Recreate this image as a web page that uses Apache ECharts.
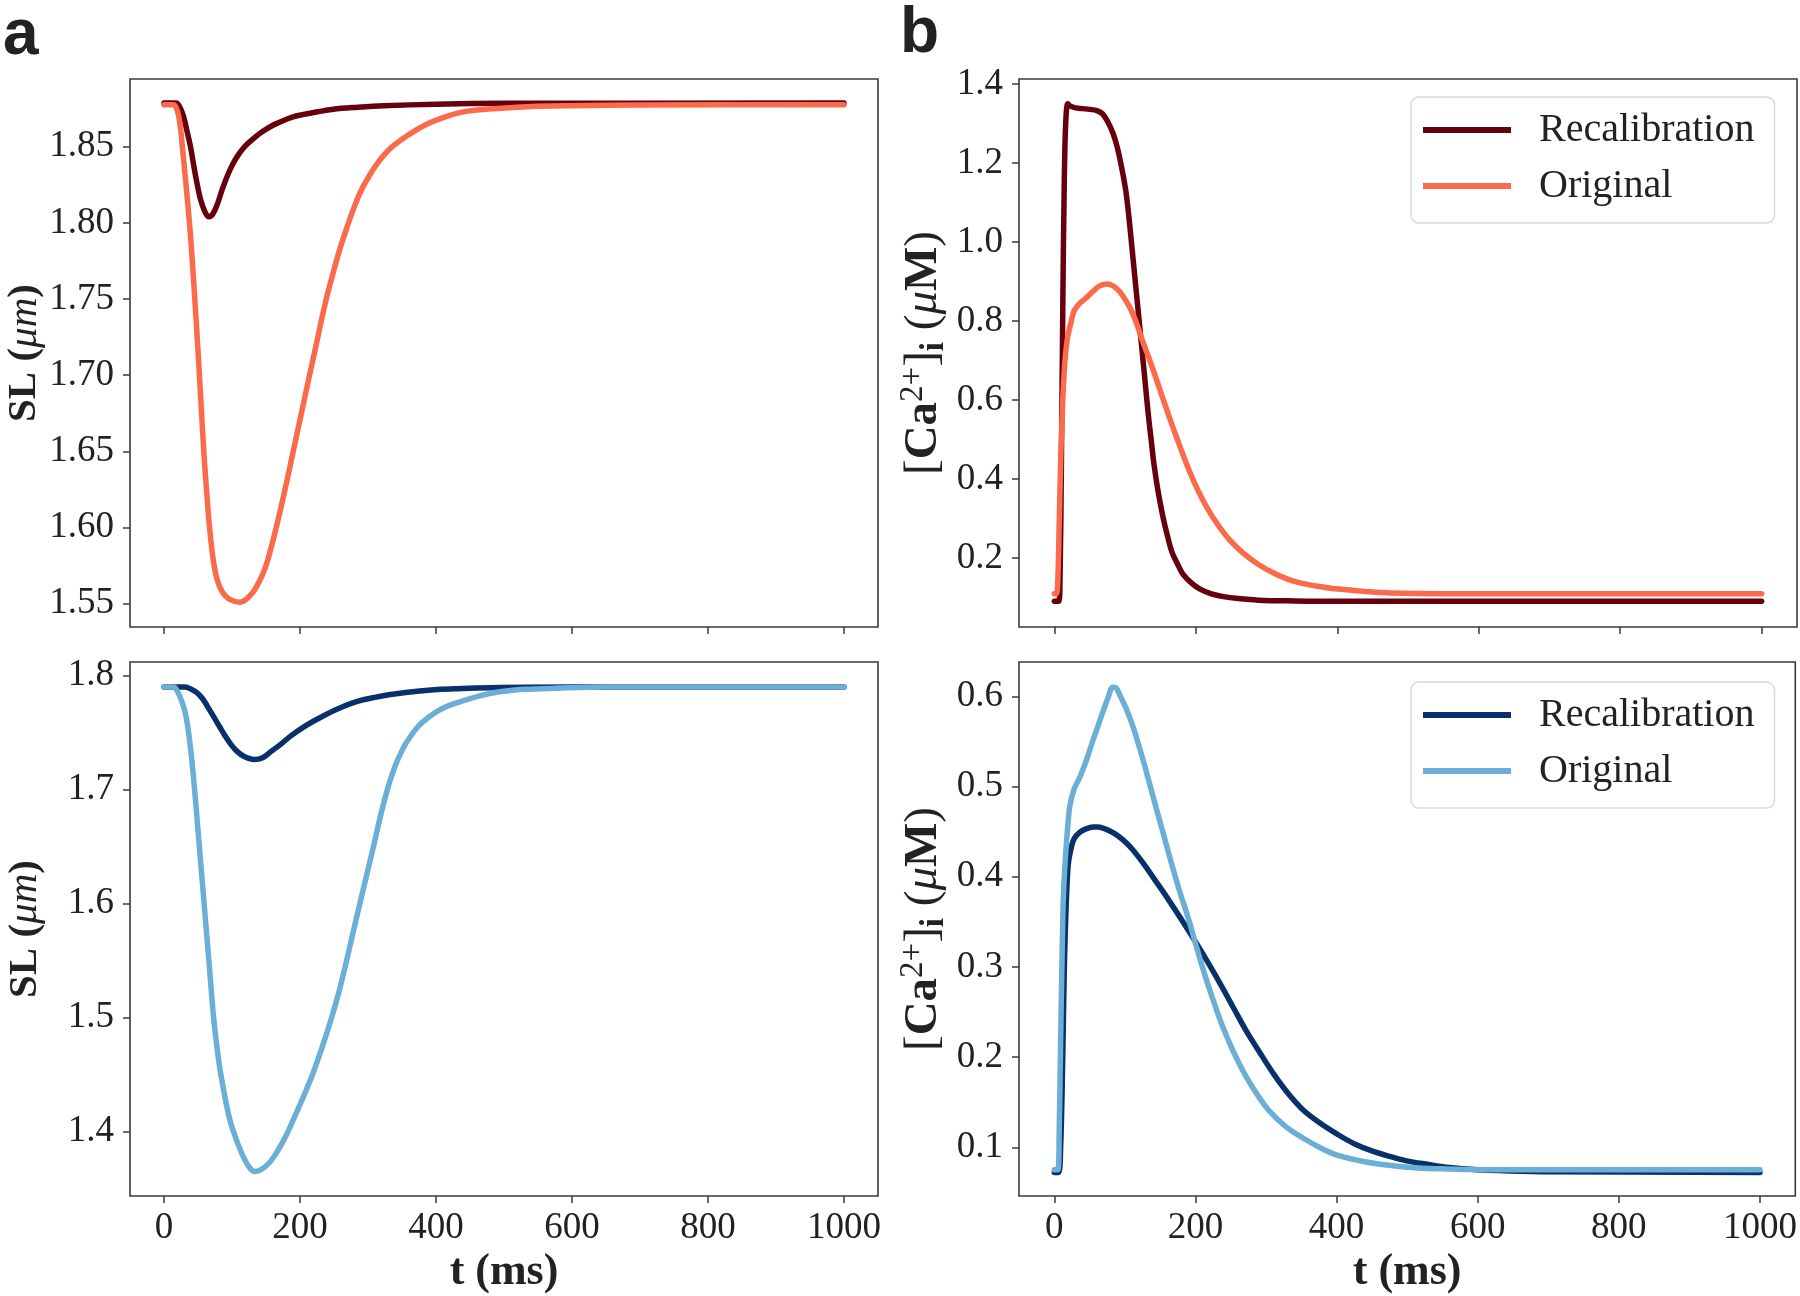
<!DOCTYPE html>
<html>
<head>
<meta charset="utf-8">
<script src="https://cdn.jsdelivr.net/npm/echarts@6/dist/echarts.min.js"></script>
<style>
  html, body { margin: 0; padding: 0; background: #fff; }
  #main { width: 1800px; height: 1296px; }
</style>
</head>
<body>
<div id="main"></div>
<script>
// panel a, top: sarcomere length (red pair)
const tSLRecalRed = [0, 18, 22, 28, 34, 39, 44, 49, 54, 60, 66, 72, 79, 86, 94, 102, 110, 119, 130, 140, 151, 165, 190, 220, 249, 285, 323, 400, 500, 1000];
const vSLRecalRed = [1.8787, 1.8787, 1.877, 1.871, 1.860, 1.850, 1.837, 1.825, 1.815, 1.8075, 1.8040, 1.8060, 1.8130, 1.8225, 1.8318, 1.8393, 1.8452, 1.8503, 1.8548, 1.8585, 1.8618, 1.8652, 1.8697, 1.8725, 1.8747, 1.876, 1.877, 1.878, 1.8785, 1.8787];
const tSLOrigRed = [0, 14, 20, 24, 27, 32, 38, 41.5, 45, 48.5, 52, 58.5, 63, 67, 72, 78, 86, 96, 112, 124, 136, 150, 165, 178, 190, 202, 214, 226, 237, 248, 258, 269, 281, 293, 312, 333, 360, 387, 416, 446, 519, 600, 700, 1000];
const vSLOrigRed = [1.8776, 1.8776, 1.873, 1.863, 1.850, 1.827, 1.797, 1.776, 1.752, 1.727, 1.701, 1.650, 1.622, 1.600, 1.580, 1.566, 1.5575, 1.5530, 1.551, 1.554, 1.561, 1.575, 1.600, 1.625, 1.650, 1.675, 1.700, 1.7245, 1.747, 1.766, 1.782, 1.797, 1.812, 1.824, 1.838, 1.849, 1.858, 1.865, 1.870, 1.8734, 1.8760, 1.8770, 1.8774, 1.8776];

// panel a, bottom: sarcomere length (blue pair)
const tSLRecalBlue = [0, 30, 37, 45, 51, 56.5, 61, 65, 73, 82, 90, 98, 107, 118, 133, 145, 158, 172, 186, 208, 232, 256, 282, 310, 339, 407, 480, 600, 1000];
const vSLRecalBlue = [1.790, 1.790, 1.789, 1.7865, 1.7838, 1.7800, 1.7760, 1.772, 1.764, 1.755, 1.747, 1.740, 1.7338, 1.729, 1.7264, 1.728, 1.7338, 1.740, 1.747, 1.756, 1.764, 1.771, 1.777, 1.781, 1.784, 1.788, 1.7895, 1.790, 1.790];
const tSLOrigBlue = [0, 14, 20, 27, 31, 35, 40, 45, 52, 59, 66, 73, 81, 90, 97, 104.5, 115, 125, 133, 142, 154, 167, 180, 192, 206, 219, 232, 246, 257, 267, 277, 288, 308, 318, 328, 335, 342, 349, 356, 373, 390, 412, 435, 463, 491, 530, 576, 650, 1000];
const vSLOrigBlue = [1.790, 1.790, 1.786, 1.776, 1.768, 1.755, 1.731, 1.700, 1.650, 1.600, 1.550, 1.500, 1.460, 1.429, 1.410, 1.396, 1.380, 1.369, 1.365, 1.3665, 1.372, 1.383, 1.397, 1.413, 1.432, 1.451, 1.473, 1.499, 1.522, 1.546, 1.572, 1.600, 1.650, 1.676, 1.699, 1.7125, 1.724, 1.733, 1.741, 1.755, 1.764, 1.772, 1.777, 1.782, 1.7856, 1.788, 1.789, 1.790, 1.790];

// panel b, top: calcium transient (red pair)
const tCaRecalRed = [0, 6, 8, 10, 12, 14, 16, 19, 22, 30, 40, 50, 60, 68, 76, 83, 89, 95, 101, 105, 109, 113, 117, 121, 125, 129, 133, 137, 141, 147, 154, 160, 166, 174, 182, 194, 206, 222, 239, 260, 288, 340, 400, 1000];
const vCaRecalRed = [0.090, 0.090, 0.15, 0.45, 0.85, 1.15, 1.30, 1.350, 1.345, 1.340, 1.338, 1.336, 1.333, 1.325, 1.303, 1.275, 1.24, 1.19, 1.13, 1.07, 0.999, 0.926, 0.853, 0.780, 0.707, 0.633, 0.56, 0.497, 0.435, 0.365, 0.30, 0.255, 0.216, 0.185, 0.158, 0.136, 0.121, 0.109, 0.102, 0.097, 0.093, 0.091, 0.090, 0.090];
const tCaOrigRed = [0, 3, 5, 7, 9, 11, 13, 15, 18, 20, 24, 28, 36, 44, 54, 64, 75, 84, 93, 101, 109, 117, 125, 135, 146, 156, 166, 178, 190, 202, 215, 230, 247, 267, 288, 312, 337, 370, 402, 440, 475, 550, 1000];
const vCaOrigRed = [0.109, 0.109, 0.15, 0.30, 0.45, 0.56, 0.64, 0.70, 0.75, 0.77, 0.80, 0.826, 0.845, 0.857, 0.874, 0.889, 0.894, 0.888, 0.873, 0.852, 0.826, 0.790, 0.748, 0.700, 0.643, 0.590, 0.539, 0.480, 0.424, 0.375, 0.330, 0.287, 0.247, 0.212, 0.184, 0.160, 0.142, 0.129, 0.121, 0.115, 0.111, 0.109, 0.109];

// panel b, bottom: calcium transient (blue pair)
const tCaRecalBlue = [0, 6, 9, 12, 14, 16, 18, 20, 24, 28, 36, 45, 55, 62, 72, 85, 97, 110, 126, 142, 158, 174, 200, 220, 239, 255, 272, 292, 312, 332, 353, 378, 402, 425, 450, 475, 499, 530, 556, 600, 637, 700, 1000];
const vCaRecalBlue = [0.072, 0.072, 0.10, 0.20, 0.29, 0.35, 0.39, 0.415, 0.432, 0.442, 0.449, 0.453, 0.455, 0.455, 0.453, 0.448, 0.441, 0.431, 0.415, 0.397, 0.379, 0.360, 0.328, 0.302, 0.276, 0.253, 0.229, 0.204, 0.180, 0.159, 0.141, 0.126, 0.114, 0.104, 0.096, 0.090, 0.085, 0.081, 0.078, 0.075, 0.074, 0.073, 0.072];
const tCaOrigBlue = [0, 5, 7, 9, 11, 13, 16, 19, 22, 28, 36, 45, 53, 61, 69, 76, 83, 88, 93, 101, 110, 118, 126, 134, 142, 154, 166, 178, 191, 203, 215, 227, 239, 255, 272, 288, 304, 328, 353, 378, 402, 440, 475, 515, 556, 650, 1000];
const vCaOrigBlue = [0.075, 0.075, 0.12, 0.22, 0.31, 0.38, 0.424, 0.455, 0.478, 0.497, 0.51, 0.528, 0.547, 0.565, 0.583, 0.598, 0.610, 0.609, 0.601, 0.588, 0.570, 0.550, 0.529, 0.506, 0.483, 0.449, 0.415, 0.383, 0.351, 0.318, 0.287, 0.259, 0.233, 0.204, 0.178, 0.158, 0.141, 0.123, 0.110, 0.099, 0.091, 0.084, 0.080, 0.077, 0.076, 0.075, 0.075];

// tick labels
const xTicks = [0, 200, 400, 600, 800, 1000];
const yTicksSLTop = [1.55, 1.60, 1.65, 1.70, 1.75, 1.80, 1.85];
const yTicksSLBottom = [1.4, 1.5, 1.6, 1.7, 1.8];
const yTicksCaTop = [0.2, 0.4, 0.6, 0.8, 1.0, 1.2, 1.4];
const yTicksCaBottom = [0.1, 0.2, 0.3, 0.4, 0.5, 0.6];

const darkRed = '#67000d', lightRed = '#fb6a4a';
const darkBlue = '#08306b', lightBlue = '#6baed6';
const serif = 'Liberation Serif';
const ink = '#222';
const frame = '#3a3a3a';

const pairs = (ts, vs) => ts.map((t, i) => [t, vs[i]]);

const grids = [
  { left: 130, top: 79, width: 748, height: 548 },
  { left: 130, top: 662, width: 748, height: 536 },
  { left: 1019, top: 79, width: 778, height: 548 },
  { left: 1019, top: 662, width: 778, height: 536 }
].map(g => Object.assign(g, { show: true, borderColor: frame, borderWidth: 1.6, backgroundColor: 'transparent' }));

function xAxisFor(idx, showLabels) {
  return {
    type: 'value', gridIndex: idx, min: -50, max: 1050,
    axisLine: { show: false, onZero: false },
    splitLine: { show: false },
    axisTick: { show: true, inside: false, length: 7, lineStyle: { color: frame, width: 1.5 }, customValues: xTicks },
    axisLabel: { show: showLabels, customValues: xTicks, margin: 14, fontFamily: serif, fontSize: 37, color: ink, formatter: v => String(v) },
    name: showLabels ? 't (ms)' : '',
    nameLocation: 'middle', nameGap: 55,
    nameTextStyle: { fontFamily: serif, fontWeight: 'bold', fontSize: 44, color: ink }
  };
}

function yAxisFor(idx, min, max, ticks, digits, name, gap, rich) {
  return {
    type: 'value', gridIndex: idx, min: min, max: max,
    axisLine: { show: false, onZero: false },
    splitLine: { show: false },
    axisTick: { show: true, inside: false, length: 7, lineStyle: { color: frame, width: 1.5 }, customValues: ticks },
    axisLabel: { customValues: ticks, margin: 16, fontFamily: serif, fontSize: 37, color: ink, formatter: v => v.toFixed(digits) },
    name: name, nameLocation: 'middle', nameGap: gap, nameRotate: 90,
    nameTextStyle: { fontFamily: serif, fontSize: 40, color: ink, rich: rich }
  };
}

const slRich = {
  b: { fontFamily: serif, fontWeight: 'bold', fontSize: 41, color: ink },
  i: { fontFamily: serif, fontStyle: 'italic', fontSize: 41, color: ink }
};
const caRich = {
  n: { fontFamily: serif, fontSize: 47, color: ink, lineHeight: 54 },
  b: { fontFamily: serif, fontWeight: 'bold', fontSize: 47, color: ink, lineHeight: 54 },
  sup: { fontFamily: serif, fontSize: 33, color: ink, verticalAlign: 'top', lineHeight: 33 },
  sub: { fontFamily: serif, fontWeight: 'bold', fontSize: 33, color: ink, verticalAlign: 'bottom', lineHeight: 33 },
  i: { fontFamily: serif, fontStyle: 'italic', fontSize: 47, color: ink, lineHeight: 54 }
};

function line(name, idx, data, color) {
  return {
    name: name, type: 'line', xAxisIndex: idx, yAxisIndex: idx,
    data: data, color: color, showSymbol: false, symbol: 'none',
    smooth: 0.35,
    lineStyle: { color: color, width: 5.5, cap: 'round', join: 'round' },
    emphasis: { disabled: true }, animation: false
  };
}

function legendFor(top, names) {
  return {
    orient: 'vertical', left: 1411, top: top,
    data: names, icon: 'rect', itemWidth: 88, itemHeight: 6, itemGap: 14,
    padding: [12, 20, 16, 12],
    backgroundColor: '#fff', borderColor: '#d9d9d9', borderWidth: 1.5, borderRadius: 8,
    textStyle: { fontFamily: serif, fontSize: 40, color: ink, lineHeight: 42, padding: [0, 0, 0, 23] },
    formatter: n => n.split('|')[0],
    selectedMode: false
  };
}

const chart = echarts.init(document.getElementById('main'), null, { renderer: 'canvas' });
chart.setOption({
  backgroundColor: '#fff',
  animation: false,
  grid: grids,
  xAxis: [xAxisFor(0, false), xAxisFor(1, true), xAxisFor(2, false), xAxisFor(3, true)],
  yAxis: [
    yAxisFor(0, 1.5347, 1.8945, yTicksSLTop, 2, '{b|SL (}{i|μm}{b|)}', 84, slRich),
    yAxisFor(1, 1.3435, 1.812, yTicksSLBottom, 1, '{b|SL (}{i|μm}{b|)}', 84, slRich),
    yAxisFor(2, 0.025, 1.413, yTicksCaTop, 1, '{n|[}{b|Ca}{sup|2+}{n|]}{sub|i}{n| (}{i|μ}{b|M}{n|)}', 68, caRich),
    yAxisFor(3, 0.046, 0.638, yTicksCaBottom, 1, '{n|[}{b|Ca}{sup|2+}{n|]}{sub|i}{n| (}{i|μ}{b|M}{n|)}', 68, caRich)
  ],
  legend: [
    legendFor(97, ['Recalibration|red', 'Original|red']),
    legendFor(682, ['Recalibration|blue', 'Original|blue'])
  ],
  graphic: [
    { type: 'text', left: 3, top: 4, style: { text: 'a', fontFamily: 'Liberation Sans', fontWeight: 'bold', fontSize: 64, fill: '#222' } },
    { type: 'text', left: 900, top: 2, style: { text: 'b', fontFamily: 'Liberation Sans', fontWeight: 'bold', fontSize: 64, fill: '#222' } }
  ],
  series: [
    line('SL Recalibration red', 0, pairs(tSLRecalRed, vSLRecalRed), darkRed),
    line('SL Original red', 0, pairs(tSLOrigRed, vSLOrigRed), lightRed),
    line('SL Recalibration blue', 1, pairs(tSLRecalBlue, vSLRecalBlue), darkBlue),
    line('SL Original blue', 1, pairs(tSLOrigBlue, vSLOrigBlue), lightBlue),
    line('Recalibration|red', 2, pairs(tCaRecalRed, vCaRecalRed), darkRed),
    line('Original|red', 2, pairs(tCaOrigRed, vCaOrigRed), lightRed),
    line('Recalibration|blue', 3, pairs(tCaRecalBlue, vCaRecalBlue), darkBlue),
    line('Original|blue', 3, pairs(tCaOrigBlue, vCaOrigBlue), lightBlue)
  ]
});
</script>
</body>
</html>
